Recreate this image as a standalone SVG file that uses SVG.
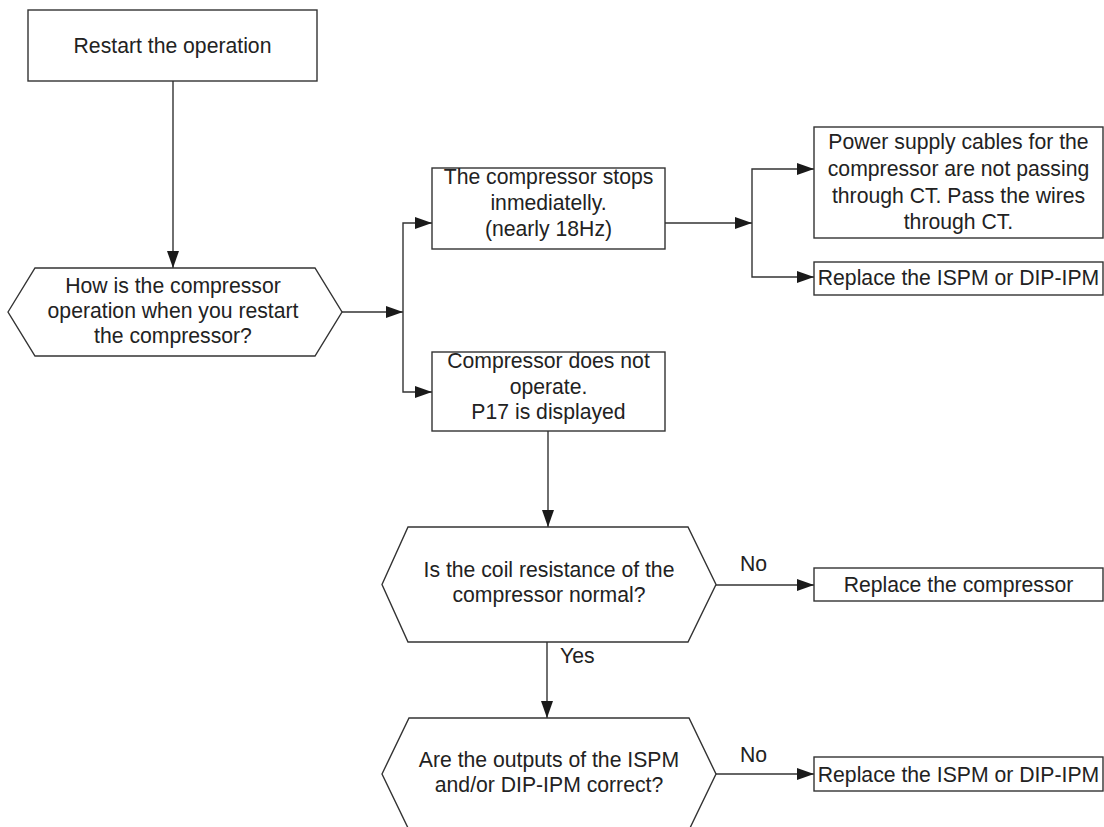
<svg xmlns="http://www.w3.org/2000/svg" width="1104" height="827" viewBox="0 0 1104 827">
  <style>
    .box { fill: #ffffff; stroke: #333333; stroke-width: 1.4; }
    .wire { fill: none; stroke: #333333; stroke-width: 1.4; }
    text { font-family: "Liberation Sans", Arial, sans-serif; font-size: 21.2px; fill: #222222; }
    .c { text-anchor: middle; }
  </style>
  <defs>
    <marker id="arrow" markerUnits="userSpaceOnUse" markerWidth="17" markerHeight="12" refX="17" refY="6" orient="auto">
      <path d="M0,0 L17,6 L0,12 Z" fill="#1a1a1a"/>
    </marker>
  </defs>
  <rect width="1104" height="827" fill="#ffffff"/>

  <!-- connectors -->
  <g id="connectors" class="wire" marker-end="url(#arrow)">
    <path d="M173,81 V268"/>
    <path d="M342,312 H403"/>
    <path d="M403,312 V223 H432"/>
    <path d="M403,312 V392 H432"/>
    <path d="M665,223 H752"/>
    <path d="M752,223 V169 H814"/>
    <path d="M752,223 V277 H814"/>
    <path d="M548,431 V527"/>
    <path d="M716,585 H814"/>
    <path d="M547,642 V718"/>
    <path d="M716,774 H814"/>
  </g>
  <g id="edge-labels">
    <text x="740" y="571">No</text>
    <text x="560" y="663">Yes</text>
    <text x="740" y="762">No</text>
  </g>

  <g id="restart">
    <rect class="box" x="28" y="10" width="289" height="71"/>
    <text class="c" x="172.5" y="53">Restart the operation</text>
  </g>

  <g id="q-restart">
    <polygon class="box" points="8,312 35,268 315,268 342,312 315,356 35,356"/>
    <text class="c" x="173" y="293">How is the compressor</text>
    <text class="c" x="173" y="318">operation when you restart</text>
    <text class="c" x="173" y="343">the compressor?</text>
  </g>

  <g id="stops">
    <rect class="box" x="432" y="168" width="233" height="81"/>
    <text class="c" x="548.5" y="184">The compressor stops</text>
    <text class="c" x="548.5" y="210">inmediatelly.</text>
    <text class="c" x="548.5" y="236">(nearly 18Hz)</text>
  </g>

  <g id="not-operate">
    <rect class="box" x="432" y="352" width="233" height="79"/>
    <text class="c" x="548.5" y="368">Compressor does not</text>
    <text class="c" x="548.5" y="393.5">operate.</text>
    <text class="c" x="548.5" y="419">P17 is displayed</text>
  </g>

  <g id="ct-cables">
    <rect class="box" x="814" y="127" width="289" height="111"/>
    <text class="c" x="958.5" y="149">Power supply cables for the</text>
    <text class="c" x="958.5" y="176">compressor are not passing</text>
    <text class="c" x="958.5" y="203">through CT. Pass the wires</text>
    <text class="c" x="958.5" y="229">through CT.</text>
  </g>

  <g id="replace-ipm-1">
    <rect class="box" x="814" y="262" width="289" height="33"/>
    <text class="c" x="958.5" y="285">Replace the ISPM or DIP-IPM</text>
  </g>

  <g id="q-coil">
    <polygon class="box" points="382,584.5 408,527 688,527 716,584.5 688,642 408,642"/>
    <text class="c" x="549" y="577">Is the coil resistance of the</text>
    <text class="c" x="549" y="602">compressor normal?</text>
  </g>

  <g id="replace-compressor">
    <rect class="box" x="814" y="568" width="289" height="33"/>
    <text class="c" x="958.5" y="592">Replace the compressor</text>
  </g>

  <g id="q-outputs">
    <polygon class="box" points="382,774 409,718 689,718 716,774 689,830 409,830"/>
    <text class="c" x="549" y="767">Are the outputs of the ISPM</text>
    <text class="c" x="549" y="792">and/or DIP-IPM correct?</text>
  </g>

  <g id="replace-ipm-2">
    <rect class="box" x="814" y="757" width="289" height="34"/>
    <text class="c" x="958.5" y="782">Replace the ISPM or DIP-IPM</text>
  </g>
</svg>
